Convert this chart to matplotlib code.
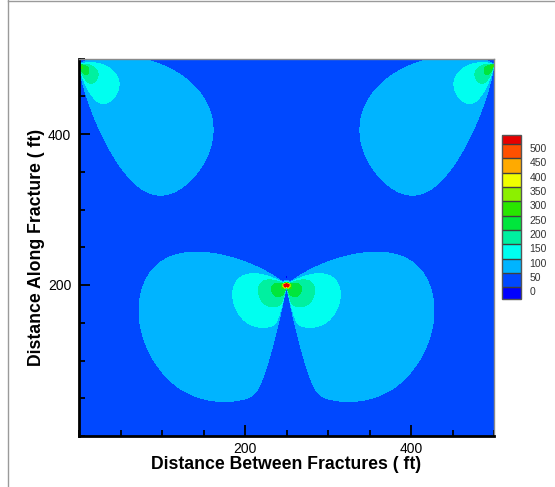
import numpy as np
import matplotlib
matplotlib.use("Agg")
import matplotlib.pyplot as plt
from matplotlib.colors import ListedColormap, BoundaryNorm
from matplotlib.ticker import MultipleLocator, FixedLocator
from matplotlib.lines import Line2D

plt.rcParams['font.family'] = ['Liberation Sans', 'DejaVu Sans']

# contour levels (psi) and flood colours: below 0, ten bands, above 500
contour_levels = [0, 50, 100, 150, 200, 250, 300, 350, 400, 450, 500]
band_colors = ['#0000ff', '#0048ff', '#00b4ff', '#00fff0', '#00f0a0', '#00e63c',
               '#28e600', '#8cf000', '#f0ff00', '#ffaa00', '#ff5000', '#e60000']

# fracture tips: position (ft), strength, radial decay and core size
tip_x = [0.0, 250.0, 500.0]
tip_y = [492.0, 200.0, 492.0]
tip_strength = [1320.0, 2560.0, 1320.0]
tip_decay = [0.63, 0.77, 0.63]
tip_core = [12.0, 20.0, 12.0]
# angular extent of each stress lobe, degrees measured from straight down
lobe_open = [14.5, 11.0, 14.5]
lobe_open_width = [8.7, 2.0, 8.7]
lobe_close = [97.3, 122.0, 97.3]
lobe_close_width = [30.7, 14.0, 30.7]
# direction of strongest stress and fall-off on either side of it
lobe_peak = [30.0, 50.0, 30.0]
lobe_fall_below = [0.0, 1.0, 0.0]
lobe_fall_above = [0.0, 0.30, 0.0]
# singular peak right at the tip
tip_peak = [0.0, 600.0, 0.0]
tip_peak_radius = [3.0, 3.0, 3.0]
# small tensile spot just behind the central tip
dip_x, dip_y, dip_depth, dip_radius = 250.0, 211.0, -60.0, 2.5
background_stress = 5.0

grid = np.linspace(0.0, 500.0, 1001)
X, Y = np.meshgrid(grid, grid)

lobes = []
peaks = np.zeros_like(X)
for i in range(len(tip_x)):
    dx = X - tip_x[i]
    dy = Y - tip_y[i]
    r = np.hypot(dx, dy)
    theta = np.degrees(np.arctan2(np.abs(dx), -dy))
    opening = 0.5 * (1 + np.tanh((theta - lobe_open[i]) / lobe_open_width[i]))
    closing = 0.5 * (1 + np.tanh((lobe_close[i] - theta) / lobe_close_width[i]))
    fall = np.where(theta < lobe_peak[i], lobe_fall_below[i], lobe_fall_above[i])
    bump = np.clip(1 - fall * ((theta - lobe_peak[i]) / 90.0) ** 2, 0, None)
    lobes.append(tip_strength[i] * opening * closing * bump /
                 (r ** 2 + tip_core[i] ** 2) ** (tip_decay[i] / 2))
    peaks += tip_peak[i] * np.exp(-(r / tip_peak_radius[i]) ** 2)

dip = dip_depth * np.exp(-((X - dip_x) ** 2 + (Y - dip_y) ** 2) / dip_radius ** 2)
stress = background_stress + np.max(lobes, axis=0) + peaks + dip

cmap = ListedColormap(band_colors[1:-1])
cmap.set_under(band_colors[0])
cmap.set_over(band_colors[-1])
norm = BoundaryNorm(contour_levels, cmap.N)

fig = plt.figure(figsize=(5.55, 4.87), dpi=100)
ax = fig.add_axes([79 / 555, 51 / 487, 415 / 555, 377.5 / 487])
cf = ax.contourf(X, Y, stress, levels=contour_levels, cmap=cmap, norm=norm,
                 extend='both')

ax.set_xlim(0, 500)
ax.set_ylim(0, 500)
ax.xaxis.set_major_locator(FixedLocator([200, 400]))
ax.yaxis.set_major_locator(FixedLocator([200, 400]))
ax.xaxis.set_minor_locator(MultipleLocator(50))
ax.yaxis.set_minor_locator(MultipleLocator(50))
ax.tick_params(which='both', direction='in', width=1.3, color='black',
               top=False, right=False)
ax.tick_params(which='major', length=8, labelsize=10)
ax.tick_params(axis='x', which='major', pad=4)
ax.tick_params(axis='y', which='major', pad=5.5)
ax.tick_params(which='minor', length=4)
for side in ('left', 'bottom'):
    ax.spines[side].set_linewidth(2)
    ax.spines[side].set_color('black')
for side in ('top', 'right'):
    ax.spines[side].set_linewidth(1)
    ax.spines[side].set_color('#8a8a8a')

ax.set_xlabel('Distance Between Fractures ( ft)', fontsize=12.7,
              fontweight='bold', labelpad=0)
ax.set_ylabel('Distance Along Fracture ( ft)', fontsize=12.7,
              fontweight='bold', labelpad=2)

cax = fig.add_axes([502 / 555, (487 - 298.5) / 487, 19 / 555, 163.5 / 487])
cbar = fig.colorbar(cf, cax=cax, extend='both', extendrect=True,
                    extendfrac=(0.077, 0.063), drawedges=True,
                    ticks=contour_levels)
cbar.outline.set_edgecolor('#555555')
cbar.outline.set_linewidth(1)
cbar.dividers.set_color('#404040')
cbar.dividers.set_linewidth(1)
cax.tick_params(length=0, labelsize=7.5, pad=6, labelcolor='#333333')
plt.setp(cax.get_yticklabels(), va='top')

# window frame
fig.add_artist(Line2D([7.5 / 555, 7.5 / 555], [0, 1], transform=fig.transFigure,
                      color='#9a9a9a', lw=1))
fig.add_artist(Line2D([7.5 / 555, 1], [1 - 0.8 / 487, 1 - 0.8 / 487],
                      transform=fig.transFigure, color='#9a9a9a', lw=1))

fig.savefig('out.png', dpi=100)
